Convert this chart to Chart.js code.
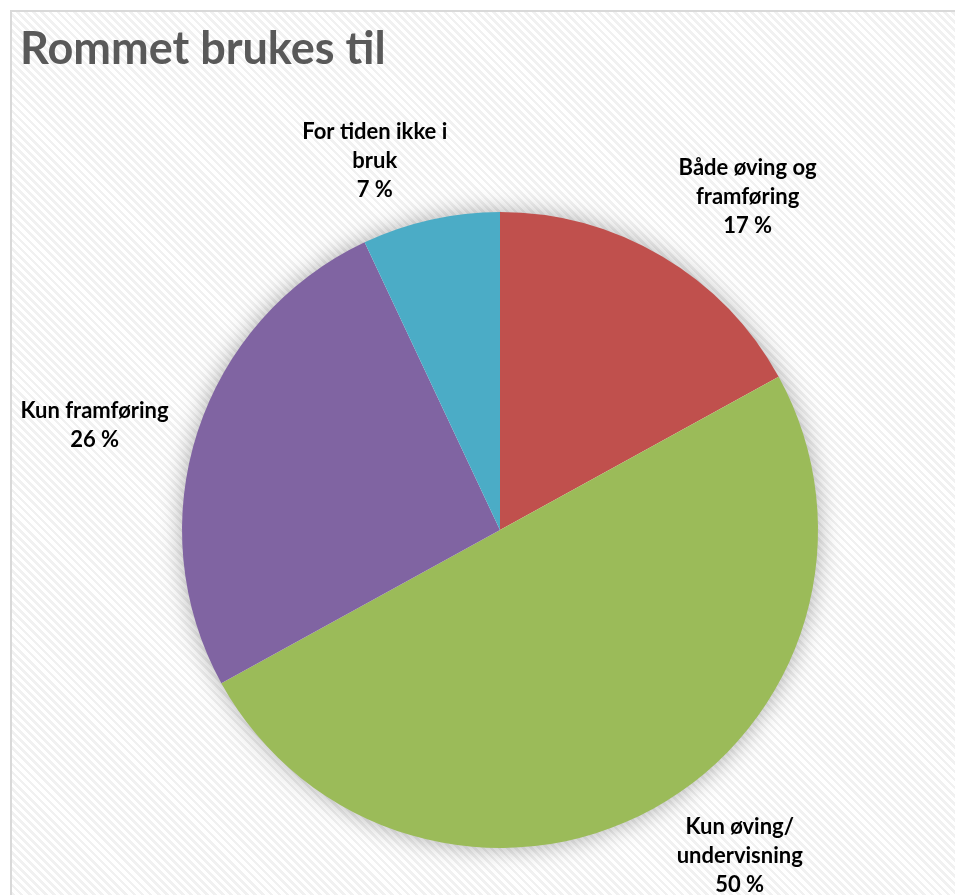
<!DOCTYPE html>
<html>
<head>
<meta charset="utf-8">
<script src="https://cdn.jsdelivr.net/npm/chart.js@4/dist/chart.umd.min.js"></script>
<style>
  html, body { margin: 0; padding: 0; overflow: hidden; background: #fff; }
  #frame {
    position: absolute; left: 10px; top: 10px; width: 1000px; height: 1000px;
    border: 2px solid #d9d9d9;
    background: repeating-linear-gradient(45deg, #ffffff 0px, #ffffff 3px, #f1f1f1 3px, #f1f1f1 5.7px);
  }
  #chart { position: absolute; left: 0; top: 0; }
</style>
</head>
<body>
<div id="frame"></div>
<canvas id="chart" width="1010" height="1000"></canvas>
<script>
const title = 'Rommet brukes til'
const categories = ['Både øving og framføring', 'Kun øving/ undervisning', 'Kun framføring', 'For tiden ikke i bruk']
const labelLines = [['Både øving og', 'framføring'], ['Kun øving/', 'undervisning'], ['Kun framføring'], ['For tiden ikke i', 'bruk']]
const values = [17, 50, 26, 7]
const colors = ['#C0504D', '#9BBB59', '#8064A2', '#4BACC6']

// small nudges so labels sit where Excel's "best fit" put them
const labelNudge = [[44, 11], [47, -25], [-25, 19], [-38, 21]]

const pieShadow = {
  id: 'pieShadow',
  beforeDatasetsDraw (chart) {
    const arc = chart.getDatasetMeta(0).data[0]
    if (!arc) return
    const ctx = chart.ctx
    ctx.save()
    ctx.shadowColor = 'rgba(0, 0, 0, 0.35)'
    ctx.shadowBlur = 24
    ctx.fillStyle = '#ffffff'
    ctx.beginPath()
    ctx.arc(arc.x, arc.y, arc.outerRadius - 1, 0, Math.PI * 2)
    ctx.fill()
    ctx.restore()
  }
}

const outsideLabels = {
  id: 'outsideLabels',
  afterDatasetsDraw (chart) {
    const ctx = chart.ctx
    const total = values.reduce((a, b) => a + b, 0)
    ctx.save()
    ctx.font = 'bold 22px Lato'
    ctx.fillStyle = '#000000'
    ctx.textAlign = 'center'
    ctx.textBaseline = 'middle'
    chart.getDatasetMeta(0).data.forEach((arc, i) => {
      const mid = (arc.startAngle + arc.endAngle) / 2
      const r = arc.outerRadius + 82
      const lx = arc.x + Math.cos(mid) * r + labelNudge[i][0]
      const ly = arc.y + Math.sin(mid) * r + labelNudge[i][1]
      const lines = labelLines[i].concat([Math.round(values[i] / total * 100) + ' %'])
      const lh = 29
      lines.forEach((t, j) => {
        ctx.fillText(t, lx, ly + (j - (lines.length - 1) / 2) * lh)
      })
    })
    ctx.restore()
  }
}

new Chart(document.getElementById('chart'), {
  type: 'pie',
  data: {
    labels: categories,
    datasets: [{
      data: values,
      backgroundColor: colors,
      borderWidth: 0
    }]
  },
  options: {
    responsive: false,
    animation: false,
    layout: {
      padding: { left: 20, right: 30, top: 0, bottom: 152 }
    },
    plugins: {
      legend: { display: false },
      tooltip: { enabled: false },
      title: {
        display: true,
        text: title,
        align: 'start',
        color: '#595959',
        font: { family: 'Lato', size: 45, weight: 'bold', lineHeight: 1.2 },
        padding: { top: 22, bottom: 136 }
      }
    }
  },
  plugins: [pieShadow, outsideLabels]
})
</script>
</body>
</html>
